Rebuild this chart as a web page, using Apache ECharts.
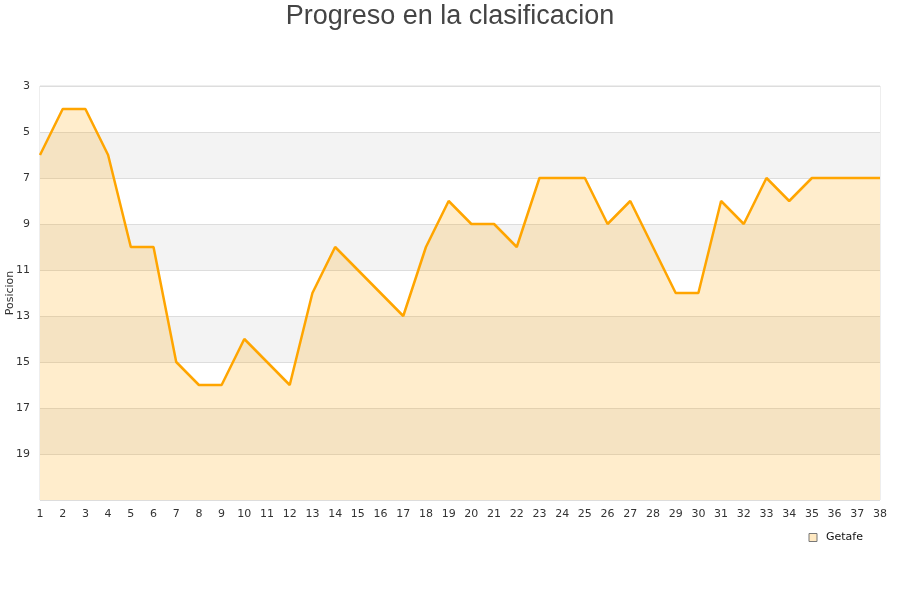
<!DOCTYPE html>
<html>
<head>
<meta charset="utf-8">
<script src="https://cdn.jsdelivr.net/npm/echarts@6/dist/echarts.min.js"></script>
<style>html,body{margin:0;padding:0;background:#fff}#c{width:900px;height:600px}</style>
</head>
<body>
<div id="c"></div>
<script>
const jornadas = ['1','2','3','4','5','6','7','8','9','10','11','12','13','14','15','16','17','18','19','20','21','22','23','24','25','26','27','28','29','30','31','32','33','34','35','36','37','38'];
const posicionGetafe = [6,4,4,6,10,10,15,16,16,14,15,16,12,10,11,12,13,10,8,9,9,10,7,7,7,9,8,10,12,12,8,9,7,8,7,7,7,7];
const seriesName = 'Getafe';
const titleText = 'Progreso en la clasificacion';
const yAxisName = 'Posicion';

const chart = echarts.init(document.getElementById('c'));
chart.setOption({
  backgroundColor: '#fff',
  animation: false,
  title: {
    text: titleText, left: 'center', top: -2,
    textStyle: { fontFamily: 'Liberation Sans', fontSize: 27, fontWeight: 'normal', color: '#444' }
  },
  legend: {
    data: [{ name: seriesName, icon: 'rect', itemStyle: { color: '#ffe9c2', borderColor: '#777', borderWidth: 1 } }],
    right: 32, top: 527, itemWidth: 8, itemHeight: 8, itemGap: 6,
    textStyle: { fontFamily: 'DejaVu Sans', fontSize: 11, color: '#111', padding: [0, 0, 0, 4] }
  },
  grid: { left: 40, right: 20, top: 86, bottom: 100, show: true, borderColor: '#ddd', borderWidth: 1, outerBoundsMode: 'none', containLabel: false },
  xAxis: {
    type: 'category', data: jornadas, boundaryGap: false,
    axisLine: { show: false }, axisTick: { show: false },
    axisLabel: { fontFamily: 'DejaVu Sans', fontSize: 11, color: '#333', margin: 9, interval: 0 },
    splitLine: { show: false }
  },
  yAxis: {
    type: 'value', inverse: true, min: 3, max: 21, interval: 2,
    name: yAxisName, nameLocation: 'middle', nameGap: 24, nameRotate: 90, nameMoveOverlap: false,
    nameTextStyle: { fontFamily: 'DejaVu Sans', fontSize: 11, color: '#333' },
    axisLine: { show: false }, axisTick: { show: false },
    axisLabel: { fontFamily: 'DejaVu Sans', fontSize: 11, color: '#333', margin: 10,
      formatter: v => (v === 21 ? '' : v) },
    splitLine: { show: true, lineStyle: { color: '#ddd' } },
    splitArea: { show: true, areaStyle: { color: ['#ffffff', '#f3f3f3'] } }
  },
  series: [{
    name: seriesName, type: 'line', data: posicionGetafe,
    symbol: 'none', smooth: false,
    lineStyle: { color: '#ffa500', width: 2.5 },
    itemStyle: { color: '#ffa500' },
    areaStyle: { color: 'rgba(255,165,0,0.2)', opacity: 1, origin: 'end' }
  }]
});
</script>
</body>
</html>
